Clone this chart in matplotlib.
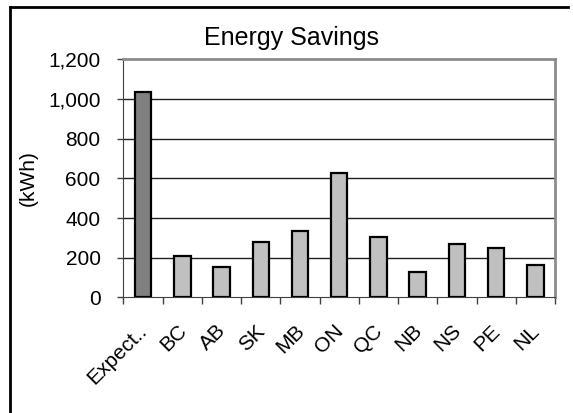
import matplotlib
matplotlib.use('Agg')
import matplotlib.pyplot as plt
import matplotlib.transforms as mtransforms
import numpy as np
from matplotlib.lines import Line2D

plt.rcParams['font.family'] = ['Liberation Sans', 'DejaVu Sans']

# --- data ---
categories = ['Expect..', 'BC', 'AB', 'SK', 'MB', 'ON', 'QC', 'NB', 'NS', 'PE', 'NL']
savings_kwh = [1035, 210, 155, 277, 336, 629, 305, 126, 270, 248, 166]
y_ticks = [0, 200, 400, 600, 800, 1000, 1200]

colors = ['#808080'] + ['#c0c0c0'] * (len(categories) - 1)

fig = plt.figure(figsize=(5.73, 4.13), dpi=100)
ax = fig.add_axes([0.2155, 0.2797, 0.7531, 0.5773])

x = np.arange(len(categories))
ax.bar(x, savings_kwh, width=0.42, color=colors, edgecolor='black',
       linewidth=1.6, zorder=3)

ax.set_xlim(-0.5, len(categories) - 0.5)
ax.set_ylim(0, 1200)
ax.set_yticks(y_ticks)
ax.set_yticklabels([f'{v:,}' for v in y_ticks], fontsize=15)
ax.tick_params(axis='y', length=4.5, width=1, color='#404040', pad=12)

# category labels at bar centers, tick marks between categories
ax.set_xticks(x)
ax.set_xticklabels(categories, fontsize=15, rotation=45, ha='right',
                   va='top', rotation_mode='anchor')
ax.tick_params(axis='x', which='major', length=0, pad=17)
shift = mtransforms.ScaledTranslation(-4 / 72, 0, fig.dpi_scale_trans)
for lbl in ax.get_xticklabels():
    lbl.set_transform(lbl.get_transform() + shift)
ax.set_xticks(np.arange(len(categories) + 1) - 0.5, minor=True)
ax.tick_params(axis='x', which='minor', length=5, width=1, color='#404040')

for v in y_ticks[1:-1]:
    ax.axhline(v, color='#202020', lw=1, zorder=1)

ax.spines['left'].set_color('#404040')
ax.spines['bottom'].set_color('#404040')
ax.spines['top'].set_color('#8c8c8c')
ax.spines['right'].set_color('#8c8c8c')
ax.spines['top'].set_linewidth(2)
ax.spines['right'].set_linewidth(2)
ax.spines['bottom'].set_zorder(4)

ax.set_ylabel('(kWh)', fontsize=15)
ax.yaxis.set_label_coords(-0.198, 0.5)

fig.text(291 / 573, 1 - 45.5 / 413, 'Energy Savings', fontsize=18,
         ha='center', va='baseline')

# outer chart frame (left and top edges visible)
fig.add_artist(Line2D([10 / 573, 10 / 573], [0, 1 - 7 / 413],
                      transform=fig.transFigure, color='black', lw=2))
fig.add_artist(Line2D([10 / 573, 568 / 573], [1 - 7 / 413, 1 - 7 / 413],
                      transform=fig.transFigure, color='black', lw=2))

fig.savefig('out.png', dpi=100)
